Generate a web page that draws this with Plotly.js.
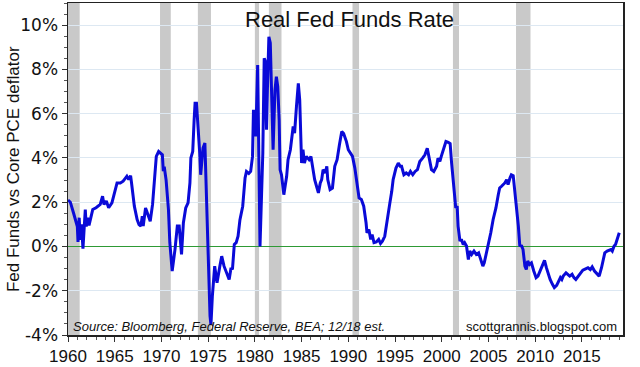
<!DOCTYPE html>
<html>
<head>
<meta charset="utf-8">
<script src="https://cdn.plot.ly/plotly-3.0.1.min.js"></script>
<style>html,body{margin:0;padding:0;background:#fff;}#chart{width:640px;height:367px;}</style>
</head>
<body>
<div id="chart"></div>
<script>
// Year (decimal) of each reading
const years = [
1960.0,1960.25,1960.6,1961.0,1961.07,1961.2,1961.3,1961.45,1961.6,1961.75,1961.85,1961.95,
1962.1,1962.25,1962.45,1962.65,1963.0,1963.2,1963.45,1963.7,1963.85,1964.1,1964.35,1964.7,
1965.05,1965.25,1965.6,1965.9,1966.15,1966.3,1966.5,1966.7,1966.8,1966.95,1967.1,1967.4,
1967.6,1967.8,1967.95,1968.05,1968.3,1968.55,1968.8,1969.05,1969.25,1969.45,1969.7,1970.0,
1970.1,1970.2,1970.3,1970.5,1970.75,1970.9,1971.15,1971.45,1971.7,1971.9,1972.15,1972.35,
1972.6,1972.85,1973.05,1973.15,1973.35,1973.5,1973.6,1973.75,1973.95,1974.1,1974.2,1974.35,
1974.45,1974.65,1974.85,1975.0,1975.2,1975.3,1975.45,1975.7,1975.95,1976.25,1976.45,1976.7,
1977.0,1977.25,1977.45,1977.6,1977.8,1978.0,1978.2,1978.4,1978.7,1978.95,1979.1,1979.35,
1979.55,1979.75,1979.85,1980.0,1980.1,1980.3,1980.45,1980.55,1980.85,1981.0,1981.1,1981.25,
1981.35,1981.5,1981.65,1981.8,1981.95,1982.15,1982.3,1982.45,1982.6,1982.7,1982.85,1983.1,
1983.4,1983.55,1983.8,1984.1,1984.25,1984.45,1984.65,1984.8,1985.0,1985.15,1985.3,1985.5,
1985.8,1986.0,1986.25,1986.4,1986.6,1986.8,1987.0,1987.15,1987.3,1987.55,1987.7,1987.8,
1988.05,1988.3,1988.55,1988.8,1989.05,1989.3,1989.5,1989.8,1990.0,1990.25,1990.45,1990.7,
1990.95,1991.15,1991.4,1991.65,1991.9,1992.0,1992.2,1992.4,1992.55,1992.75,1993.0,1993.25,
1993.45,1993.65,1993.9,1994.15,1994.45,1994.65,1994.8,1995.1,1995.35,1995.55,1995.7,1995.95,
1996.2,1996.45,1996.65,1996.9,1997.15,1997.4,1997.65,1997.95,1998.2,1998.45,1998.65,1998.9,
1999.15,1999.45,1999.6,1999.8,1999.95,2000.2,2000.45,2000.7,2000.9,2001.05,2001.3,2001.5,
2001.65,2001.75,2001.95,2002.1,2002.3,2002.45,2002.65,2002.85,2003.0,2003.2,2003.45,2003.7,
2003.95,2004.2,2004.4,2004.55,2004.75,2005.0,2005.25,2005.5,2005.8,2006.05,2006.2,2006.4,
2006.55,2006.75,2006.95,2007.1,2007.3,2007.45,2007.65,2007.85,2008.0,2008.2,2008.35,2008.55,
2008.7,2008.9,2009.05,2009.2,2009.4,2009.6,2009.85,2010.1,2010.3,2010.55,2010.8,2011.0,
2011.2,2011.35,2011.6,2011.85,2012.05,2012.3,2012.5,2012.7,2012.85,2013.0,2013.3,2013.5,
2013.7,2013.95,2014.15,2014.35,2014.6,2014.85,2015.1,2015.4,2015.65,2015.9,2016.1,2016.35,
2016.65,2016.85,2017.1,2017.3,2017.45,2017.7,2017.9,2018.1,2018.25,2018.45,2018.6,2018.75,
2018.9,2019.0
];
// Real fed funds rate, % (fed funds minus core PCE deflator)
const realRate = [
2.1,2.0,1.5,0.9,0.2,1.3,0.3,1.0,-0.1,0.75,1.67,0.9,
1.3,0.95,1.4,1.67,1.75,1.82,1.9,2.27,1.9,2.05,1.75,1.97,
2.5,2.87,2.87,2.95,3.09,3.17,3.02,3.2,2.87,2.42,1.82,1.22,
0.99,0.92,1.37,0.92,1.74,1.44,1.14,1.9,3.17,4.07,4.29,4.14,
4.14,3.4,3.6,3.0,1.67,0.17,-1.11,-0.14,0.92,0.92,-0.36,1.07,
1.74,1.97,2.87,4.0,4.29,5.72,6.47,6.47,5.42,4.22,3.24,4.29,
4.44,4.67,1.37,-1.04,-3.14,-3.55,-2.24,-0.89,-1.64,-0.89,-0.44,-0.89,
-1.19,-1.49,-0.96,-1.04,0.09,0.17,0.46,1.2,1.82,3.1,3.39,3.3,
3.39,4.07,6.17,5.57,4.97,8.2,4.22,0.0,4.22,8.5,8.4,5.27,
7.22,9.47,9.2,7.22,4.37,7.07,7.67,7.22,5.72,3.47,3.24,2.34,
3.17,3.92,4.37,5.42,5.12,6.32,7.37,6.62,3.77,4.37,3.77,4.07,
3.92,4.07,3.32,3.02,2.72,2.42,2.87,3.02,3.47,3.32,3.62,3.02,
2.57,2.64,3.62,3.92,4.6,5.19,5.1,4.74,4.37,4.22,4.07,3.54,
2.87,2.19,2.12,1.82,1.07,0.62,0.77,0.32,0.54,0.17,0.2,0.32,
0.14,0.24,0.46,1.07,1.97,2.49,3.02,3.54,3.77,3.62,3.62,3.24,
3.32,3.24,3.39,3.24,3.39,3.47,3.84,3.99,4.14,4.44,4.07,3.47,
3.39,3.62,3.99,3.84,4.07,4.37,4.74,4.7,4.65,3.8,2.57,1.74,
1.82,0.92,0.24,0.32,0.09,0.17,0.02,-0.59,-0.21,-0.36,-0.21,-0.36,
-0.29,-0.59,-0.89,-0.74,-0.36,0.09,0.62,1.22,1.74,2.34,2.64,2.72,
2.79,2.87,3.02,2.79,3.09,3.24,3.2,2.42,1.82,0.92,0.05,0.02,
-0.14,-0.89,-1.04,-0.66,-0.81,-0.74,-1.11,-1.41,-1.34,-1.11,-0.81,-0.63,
-0.96,-1.19,-1.49,-1.71,-1.86,-1.76,-1.56,-1.41,-1.49,-1.34,-1.19,-1.26,
-1.34,-1.26,-1.41,-1.49,-1.34,-1.19,-1.07,-1.01,-0.96,-1.04,-0.92,-1.11,
-1.26,-1.34,-0.96,-0.59,-0.29,-0.21,-0.17,-0.14,-0.21,0.02,0.09,0.32,
0.54,0.62
];
// Recessions (start, end)
const recessionStart = [1960.0, 1969.85, 1973.9, 1980.0, 1981.5, 1990.45, 2001.2, 2007.95];
const recessionEnd   = [1961.25, 1971.0, 1975.3, 1980.45, 1982.85, 1991.15, 2001.85, 2009.5];
// Tick labels
const xTickVals = [1960,1965,1970,1975,1980,1985,1990,1995,2000,2005,2010,2015];
const yTickVals = [-4,-2,0,2,4,6,8,10];
const yTickText = yTickVals.map(v => v + '%');

const titleText = 'Real Fed Funds Rate';
const yTitleText = 'Fed Funds vs Core PCE deflator';
const sourceText = 'Source: Bloomberg, Federal Reserve, BEA; 12/18 est.';
const creditText = 'scottgrannis.blogspot.com';

const shapes = recessionStart.map((s, i) => ({
  type: 'rect', xref: 'x', yref: 'paper', x0: s, x1: recessionEnd[i], y0: 0, y1: 1,
  fillcolor: '#c9c9c9', line: {width: 0}, layer: 'below'
}));

const trace = {
  x: years, y: realRate, type: 'scatter', mode: 'lines',
  line: {color: '#0a0ad8', width: 3}, hoverinfo: 'skip'
};

const FONT = 'Liberation Sans, Arial, sans-serif';
const layout = {
  width: 640, height: 367,
  margin: {l: 68, r: 17, t: 3, b: 32},
  paper_bgcolor: '#fff', plot_bgcolor: '#fff',
  showlegend: false,
  font: {family: FONT, color: '#111'},
  xaxis: {
    range: [1960, 2019.4], tickvals: xTickVals, ticks: 'outside', ticklen: 5, tickcolor: '#333',
    minor: {dtick: 1, ticks: 'outside', ticklen: 3, tickcolor: '#555', showgrid: false},
    showline: true, mirror: true, linecolor: '#222', linewidth: 1.5,
    showgrid: false, zeroline: false, tickfont: {family: FONT, size: 17, color: '#111'}
  },
  yaxis: {
    range: [-4, 11], tickvals: yTickVals, ticktext: yTickText, ticks: 'outside', ticklen: 5, tickcolor: '#333',
    minor: {dtick: 0.5, ticks: 'outside', ticklen: 3, tickcolor: '#555', showgrid: false},
    showline: true, mirror: true, linecolor: '#222', linewidth: 1.5,
    showgrid: true, gridcolor: '#dde8f2', gridwidth: 1,
    zeroline: true, zerolinecolor: '#2e9a35', zerolinewidth: 1.2,
    tickfont: {family: 'DejaVu Sans, sans-serif', size: 17, color: '#111'}
  },
  shapes: shapes,
  annotations: [
    {text: titleText, xref: 'paper', yref: 'paper', x: 0.508, y: 0.949, showarrow: false,
     xanchor: 'center', yanchor: 'middle', font: {family: FONT, size: 22, color: '#111'}},
    {text: yTitleText, xref: 'paper', yref: 'paper', x: -0.099, y: 0.5, showarrow: false,
     textangle: -90, xanchor: 'center', yanchor: 'middle', font: {family: FONT, size: 17, color: '#111'}},
    {text: '<i>' + sourceText + '</i>', xref: 'paper', yref: 'paper', x: 0.006, y: 0.025, showarrow: false,
     xanchor: 'left', yanchor: 'middle', font: {family: FONT, size: 13, color: '#111'}},
    {text: creditText, xref: 'paper', yref: 'paper', x: 0.993, y: 0.025, showarrow: false,
     xanchor: 'right', yanchor: 'middle', font: {family: FONT, size: 13, color: '#111'}}
  ]
};

Plotly.newPlot('chart', [trace], layout, {displayModeBar: false, staticPlot: true});
</script>
</body>
</html>
